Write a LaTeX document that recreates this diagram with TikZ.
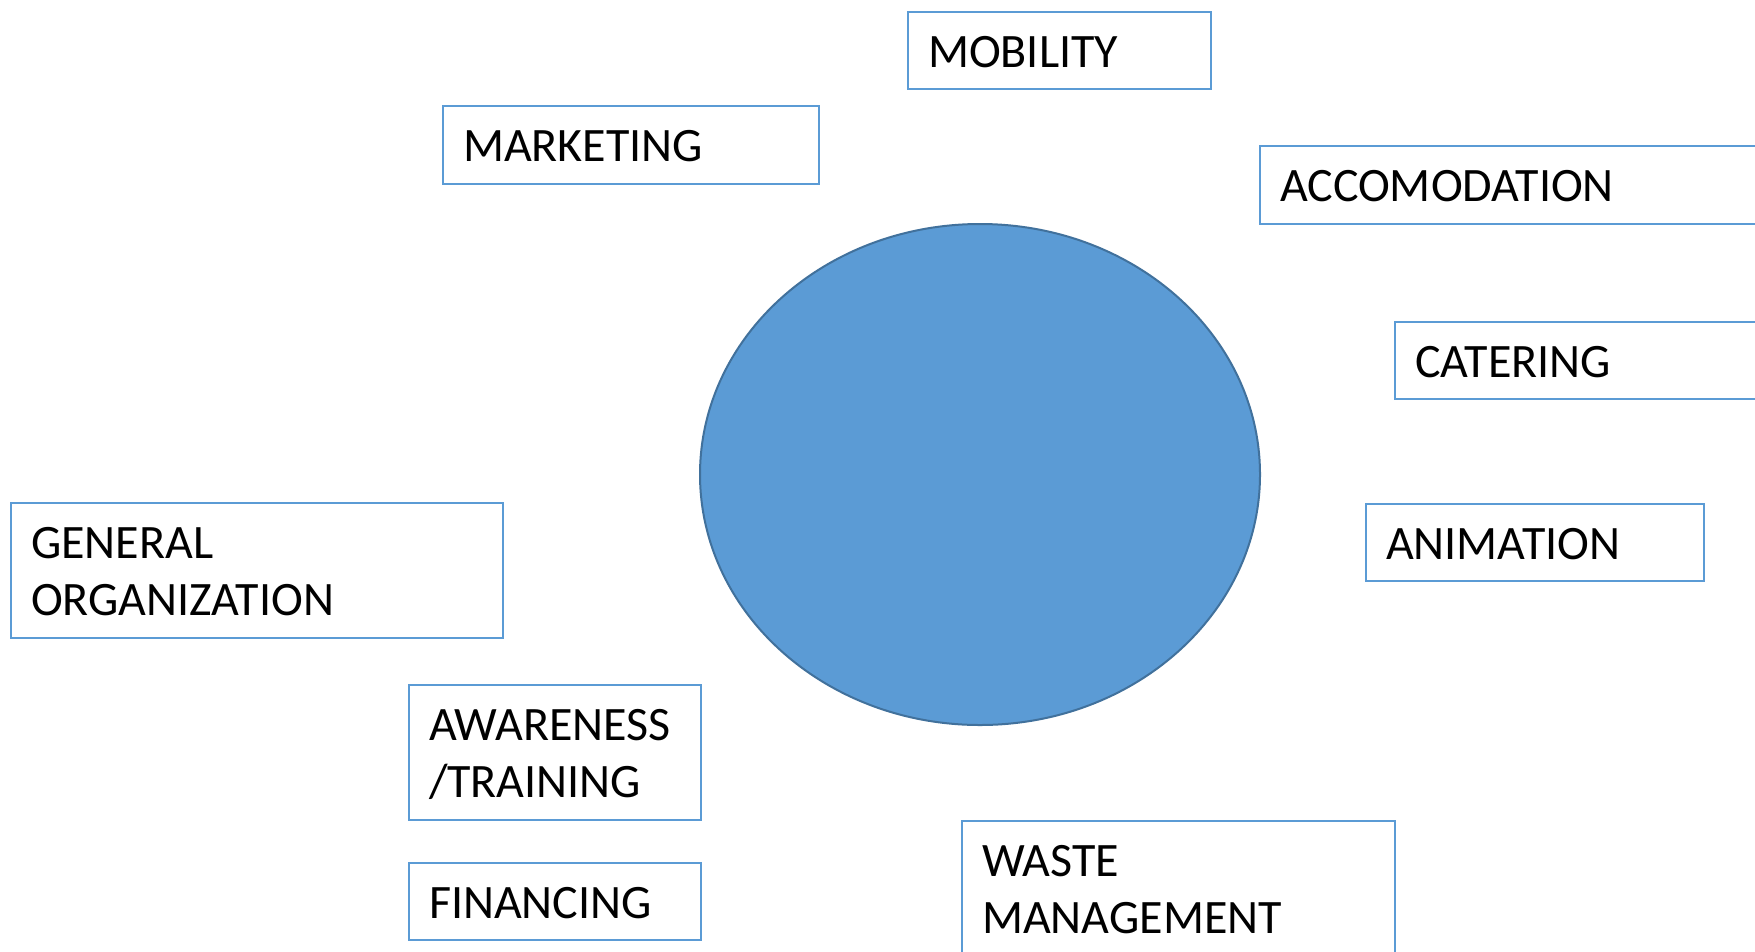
\documentclass[tikz,border=0pt]{standalone}
\usepackage{fontspec}
\setmainfont{Carlito}
\usetikzlibrary{shapes.geometric}
\definecolor{boxblue}{HTML}{5B9BD5}
\definecolor{ringblue}{HTML}{41719C}
\begin{document}
\begin{tikzpicture}[x=1pt,y=-1pt,
  box/.style={draw=boxblue, line width=1.4pt, anchor=north west, inner sep=0pt, outer sep=0pt},
  lbl/.style={anchor=base west, inner sep=0pt, outer sep=0pt, align=left,
    font=\fontsize{48}{57}\selectfont, text=black},
  hubstyle/.style={ellipse, draw=ringblue, line width=2pt, fill=boxblue, inner sep=0pt}]
\useasboundingbox (0,0) rectangle (1755,951);
\clip (0,0) rectangle (1755,951);
\fill[white] (0,0) rectangle (1755,951);
\node[hubstyle, minimum width=560pt, minimum height=501pt] (hub) at (980,474.5) {};
\node[box, minimum width=303pt, minimum height=77pt] (mob) at (908,12) {};
\node[box, minimum width=376pt, minimum height=78pt] (mkt) at (443,106) {};
\node[box, minimum width=600pt, minimum height=78pt] (acc) at (1260,146) {};
\node[box, minimum width=450pt, minimum height=77pt] (cat) at (1395,322) {};
\node[box, minimum width=338pt, minimum height=77pt] (ani) at (1366,504) {};
\node[box, minimum width=492pt, minimum height=135pt] (gen) at (11,503) {};
\node[box, minimum width=292pt, minimum height=135pt] (awa) at (409,685) {};
\node[box, minimum width=292pt, minimum height=77pt] (fin) at (409,863) {};
\node[box, minimum width=433pt, minimum height=200pt] (was) at (962,821) {};
\node[lbl] (mobt) at ([xshift=20pt,yshift=-55pt]mob.north west) {MOBILITY};
\node[lbl] (mktt) at ([xshift=20pt,yshift=-55pt]mkt.north west) {MARKETING};
\node[lbl] (acct) at ([xshift=20pt,yshift=-55pt]acc.north west) {ACCOMODATION};
\node[lbl] (catt) at ([xshift=20pt,yshift=-55pt]cat.north west) {CATERING};
\node[lbl] (anit) at ([xshift=20pt,yshift=-55pt]ani.north west) {ANIMATION};
\node[lbl] (gent) at ([xshift=20pt,yshift=-112pt]gen.north west) {GENERAL\\ORGANIZATION};
\node[lbl] (awat) at ([xshift=20pt,yshift=-112pt]awa.north west) {AWARENESS\\/TRAINING};
\node[lbl] (fint) at ([xshift=20pt,yshift=-55pt]fin.north west) {FINANCING};
\node[lbl] (wast) at ([xshift=20pt,yshift=-112pt]was.north west) {WASTE\\MANAGEMENT};
\end{tikzpicture}
\end{document}
